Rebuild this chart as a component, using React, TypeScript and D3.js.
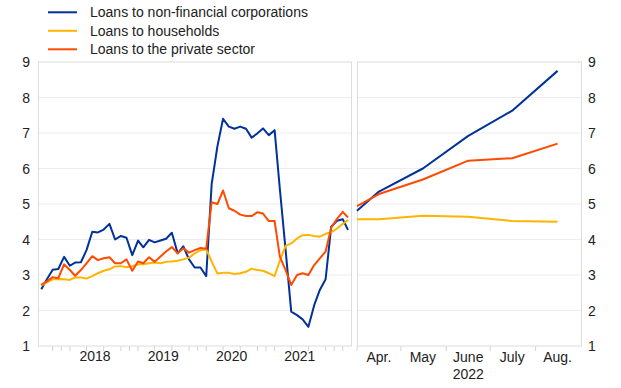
import React from 'react'
import * as d3 from 'd3'

// monthly series, Sep 2017 - Mar 2022
const nfcLeft = [
  2.6, 2.88, 3.15, 3.17, 3.51, 3.26, 3.35, 3.36, 3.7, 4.22, 4.2, 4.28, 4.44, 4.0, 4.1, 4.05, 3.56, 3.97,
  3.78, 3.99, 3.92, 3.97, 4.02, 4.19, 3.61, 3.81, 3.44, 3.21, 3.21, 2.97, 5.56, 6.63, 7.4, 7.18, 7.12,
  7.18, 7.12, 6.87, 6.99, 7.13, 6.94, 7.08, 5.43, 3.7, 1.97, 1.87, 1.75, 1.54, 2.15, 2.58, 2.88, 4.36,
  4.53, 4.57, 4.27,
]
const hhLeft = [
  2.7, 2.79, 2.88, 2.89, 2.88, 2.86, 2.93, 2.93, 2.9, 2.97, 3.05, 3.12, 3.16, 3.24, 3.25, 3.22, 3.25, 3.3,
  3.3, 3.33, 3.35, 3.33, 3.37, 3.38, 3.4, 3.44, 3.49, 3.61, 3.7, 3.72, 3.38, 3.04, 3.06, 3.06, 3.03, 3.05,
  3.09, 3.18, 3.14, 3.12, 3.05, 2.97, 3.4, 3.82, 3.89, 4.03, 4.12, 4.13, 4.1, 4.08, 4.16, 4.2, 4.31, 4.44,
  4.55,
]
const pvtLeft = [
  2.72, 2.82, 2.94, 2.91, 3.3, 3.14, 2.98, 3.14, 3.33, 3.53, 3.42, 3.47, 3.5, 3.33, 3.33, 3.44, 3.12, 3.38,
  3.33, 3.5, 3.37, 3.52, 3.66, 3.79, 3.61, 3.75, 3.63, 3.7, 3.76, 3.74, 5.05, 5.0, 5.38, 4.88, 4.81, 4.7,
  4.66, 4.66, 4.77, 4.73, 4.52, 4.52, 3.52, 3.14, 2.72, 3.0, 3.05, 3.0, 3.28, 3.47, 3.66, 4.33, 4.58, 4.78,
  4.62,
]
const leftMonths = d3.timeMonth.range(new Date(2017, 8, 1), new Date(2022, 3, 1))
const yearLabels = ['2018', '2019', '2020', '2021']

// right panel: end-March start value, then Apr.-Aug. 2022
const rightDates = ['2022-04-01', '2022-04-16', '2022-05-16', '2022-06-16', '2022-07-16', '2022-08-16']
const monthLabels = ['Apr.', 'May', 'June', 'July', 'Aug.']
const nfcRight = [4.81, 5.35, 6.0, 6.92, 7.63, 8.75]
const hhRight = [4.57, 4.57, 4.67, 4.64, 4.52, 4.5]
const pvtRight = [4.94, 5.28, 5.69, 6.22, 6.29, 6.7]

const yTicks = [1, 2, 3, 4, 5, 6, 7, 8, 9]

const series = [
  { name: 'Loans to non-financial corporations', color: '#003299', left: nfcLeft, right: nfcRight },
  { name: 'Loans to households', color: '#ffb400', left: hhLeft, right: hhRight },
  { name: 'Loans to the private sector', color: '#ff4b00', left: pvtLeft, right: pvtRight },
]

const W = 621
const H = 388
const top = 62
const bottom = 346
const font = 'Arial, "Liberation Sans", Helvetica, sans-serif'

export default function App() {
  const y = d3.scaleLinear().domain([1, 9]).range([bottom, top])
  const xL = d3
    .scaleTime()
    .domain([new Date(2017, 8, 1), new Date(2022, 3, 1)])
    .range([38.5, 351])
  const xR = d3
    .scaleTime()
    .domain([new Date(2022, 3, 1), new Date(2022, 8, 1)])
    .range([357, 581])

  const midMonth = (d: Date) => new Date(d.getFullYear(), d.getMonth(), 16)
  const lineL = d3
    .line<number>()
    .x((d, i) => xL(midMonth(leftMonths[i])))
    .y((d) => y(d))
  const lineR = d3
    .line<number>()
    .x((d, i) => xR(d3.timeParse('%Y-%m-%d')(rightDates[i])!))
    .y((d) => y(d))

  // ticks: year boundaries and mid-quarters on the left, month boundaries on the right
  const leftTicks = [
    ...d3.timeYear.range(new Date(2018, 0, 1), new Date(2022, 0, 2)),
    ...d3.timeMonth.every(3)!.range(new Date(2017, 9, 1), new Date(2022, 3, 1)).map((d) => new Date(d.getFullYear(), d.getMonth() + 1, 16)),
  ]
  const rightTicks = d3.timeMonth.range(new Date(2022, 3, 1), new Date(2022, 8, 1))

  const panel = (x0: number, x1: number) => (
    <g>
      {yTicks.slice(1, -1).map((t) => (
        <line key={t} x1={x0} x2={x1} y1={y(t)} y2={y(t)} stroke="#ececec" strokeWidth={1} />
      ))}
      <rect x={x0} y={top} width={x1 - x0} height={bottom - top} fill="none" stroke="#dcdcdc" strokeWidth={1} />
    </g>
  )

  return (
    <div style={{ position: 'absolute', left: 0, top: 0 }}>
      <svg width={W} height={H} style={{ display: 'block', fontFamily: font }}>
        <rect width={W} height={H} fill="#fff" />
        {panel(38.5, 351.5)}
        {panel(357.5, 581.5)}

        {leftTicks
          .filter((d) => xL(d) > 39 && xL(d) < 351)
          .map((d, i) => (
            <line key={'lt' + i} x1={xL(d)} x2={xL(d)} y1={bottom} y2={bottom + 5} stroke="#d4d4d4" />
          ))}
        {rightTicks.map((d, i) => (
          <line key={'rt' + i} x1={xR(d)} x2={xR(d)} y1={bottom} y2={bottom + 5} stroke="#d4d4d4" />
        ))}

        {series.map((s) => (
          <g key={s.name}>
            <path d={lineL(s.left)!} fill="none" stroke={s.color} strokeWidth={2} strokeLinejoin="round" />
            <path d={lineR(s.right)!} fill="none" stroke={s.color} strokeWidth={2} strokeLinejoin="round" />
          </g>
        ))}

        {yTicks.map((t) => (
          <g key={'y' + t} fontSize={14} fill="#222">
            <text x={30} y={y(t)} dy="0.36em" textAnchor="end">
              {t}
            </text>
            <text x={588} y={y(t)} dy="0.36em" textAnchor="start">
              {t}
            </text>
          </g>
        ))}

        {yearLabels.map((yr) => (
          <text
            key={yr}
            x={xL(new Date(+yr, 6, 1))}
            y={356}
            dy="0.36em"
            textAnchor="middle"
            fontSize={14}
            fill="#222"
          >
            {yr}
          </text>
        ))}
        {monthLabels.map((m, i) => (
          <text
            key={m}
            x={xR(d3.timeParse('%Y-%m-%d')(rightDates[i + 1])!)}
            y={356.5}
            dy="0.36em"
            textAnchor="middle"
            fontSize={14}
            fill="#222"
          >
            {m}
          </text>
        ))}
        <text
          x={xR(d3.timeParse('%Y-%m-%d')(rightDates[3])!)}
          y={373.5}
          dy="0.36em"
          textAnchor="middle"
          fontSize={14}
          fill="#222"
        >
          2022
        </text>

        {series.map((s, i) => (
          <g key={'lg' + i} transform={`translate(0, ${12.3 + i * 18.5})`}>
            <line x1={48} x2={77} y1={0} y2={0} stroke={s.color} strokeWidth={2} />
            <text x={90} y={0} dy="0.36em" fontSize={14} fill="#222">
              {s.name}
            </text>
          </g>
        ))}
      </svg>
    </div>
  )
}
